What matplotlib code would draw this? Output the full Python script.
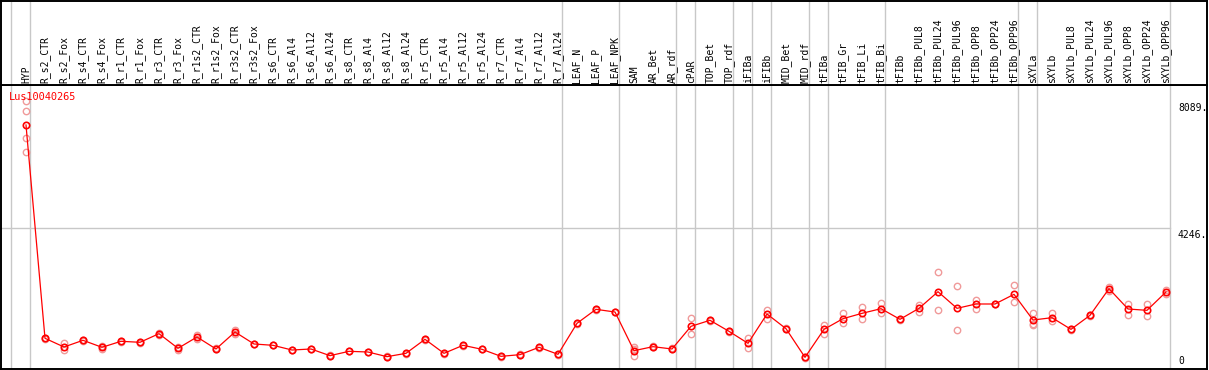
import matplotlib
matplotlib.use("Agg")
import matplotlib.pyplot as plt
from matplotlib.transforms import blended_transform_factory, offset_copy

W, H = 1209, 370

categories = ["HYP", "R_s2_CTR", "R_s2_Fox", "R_s4_CTR", "R_s4_Fox", "R_r1_CTR", "R_r1_Fox",
              "R_r3_CTR", "R_r3_Fox", "R_r1s2_CTR", "R_r1s2_Fox", "R_r3s2_CTR", "R_r3s2_Fox",
              "R_s6_CTR", "R_s6_Al4", "R_s6_Al12", "R_s6_Al24", "R_s8_CTR", "R_s8_Al4",
              "R_s8_Al12", "R_s8_Al24", "R_r5_CTR", "R_r5_Al4", "R_r5_Al12", "R_r5_Al24",
              "R_r7_CTR", "R_r7_Al4", "R_r7_Al12", "R_r7_Al24", "LEAF_N", "LEAF_P", "LEAF_NPK",
              "SAM", "AR_Bet", "AR_rdf", "cPAR", "TOP_Bet", "TOP_rdf", "iFIBa", "iFIBb",
              "MID_Bet", "MID_rdf", "tFIBa", "tFIB_Gr", "tFIB_Li", "tFIB_Bi", "tFIBb",
              "tFIBb_PUL8", "tFIBb_PUL24", "tFIBb_PUL96", "tFIBb_OPP8", "tFIBb_OPP24",
              "tFIBb_OPP96", "sXYLa", "sXYLb", "sXYLb_PUL8", "sXYLb_PUL24", "sXYLb_PUL96",
              "sXYLb_OPP8", "sXYLb_OPP24", "sXYLb_OPP96"]

means = [7365, 927, 664, 866, 655, 836, 806, 1066, 625, 966, 604, 1117, 755, 715, 573,
         604, 402, 534, 513, 372, 473, 896, 473, 715, 594, 382, 433, 655, 443,
         1379, 1801, 1720, 553, 674, 604, 1288, 1470, 1137, 775, 1660, 1217, 352,
         1197, 1519, 1680, 1821, 1500, 1831, 2333, 1831, 1962, 1962, 2254, 1479,
         1549, 1197, 1620, 2424, 1811, 1771, 2324]

replicates = [[8089, 7778, 6963, 6550], [900, 950], [776, 573], [840, 890], [700, 600],
              [820, 850], [790, 820], [1100, 1030], [650, 580], [1040, 900], [620, 590],
              [1180, 1060], [760, 750], [720, 710], [580, 570], [610, 600], [410, 395],
              [540, 530], [520, 505], [380, 365], [480, 465], [910, 880], [480, 465],
              [730, 700], [600, 590], [390, 375], [440, 425], [665, 645], [450, 435],
              [1390, 1370], [1810, 1790], [1730, 1710], [650, 610, 400], [700, 650],
              [620, 590], [1530, 1056], [1480, 1460], [1145, 1130], [926, 624],
              [1781, 1500], [1225, 1210], [360, 345], [1328, 1046], [1690, 1398],
              [1871, 1500], [2001, 1690], [1510, 1490], [1932, 1730], [2937, 1771],
              [2505, 1168], [2083, 1801], [1970, 1955], [2526, 2013], [1680, 1358, 1318],
              [1680, 1449], [1205, 1190], [1630, 1610], [2485, 2364], [1952, 1630],
              [1962, 1610], [2380, 2270]]

gene_label = "Lus10040265"
right_ticks = [8089, 4246, 0]
right_tick_labels = ["8089.", "4246.", "0"]
group_bounds = [-1, 0, 28, 31, 34, 35, 37, 38, 39, 41, 42, 45, 52, 53, 60]

GRAY = "#c8c8c8"
RED = "#ff0000"
PINK = "#f09a9a"
FONT = "DejaVu Sans Mono"

fig = plt.figure(figsize=(W / 100, H / 100), dpi=100)

x0 = (1 - 26) / 19
x1 = (1207 - 26) / 19

# plot axes: y pixel 85..369
ax = fig.add_axes([1 / W, (H - 369) / H, 1206 / W, 284 / H])
# header axes: y pixel 1..85
axh = fig.add_axes([1 / W, (H - 85) / H, 1206 / W, 84 / H])

for a in (ax, axh):
    a.set_xlim(x0, x1)
    a.set_xticks([])
    a.set_yticks([])
    for s in a.spines.values():
        s.set_color("black")
        s.set_linewidth(1.4)
    for k in group_bounds:
        a.axvline(k + 4 / 19, color=GRAY, lw=1.0, zorder=0)

ymax = 8572
ax.set_ylim(0, ymax)
axh.set_ylim(0, 1)

# horizontal reference line at middle tick
ax.plot([x0, group_bounds[-1] + 4 / 19], [right_ticks[1], right_ticks[1]],
        color=GRAY, lw=1.0, zorder=0)

xs = list(range(len(categories)))

# replicate points
rx, ry = [], []
for i, reps in enumerate(replicates):
    for v in reps:
        rx.append(i)
        ry.append(v)
ax.plot(rx, ry, ls="none", marker="o", ms=4.6, mfc="none", mec=PINK, mew=1.0, zorder=2)

# mean line and markers
ax.plot(xs, means, color=RED, lw=0.9, zorder=3)
ax.plot(xs, means, ls="none", marker="o", ms=4.6, mfc="none", mec=RED, mew=1.2, zorder=4)

# header labels
th = offset_copy(blended_transform_factory(axh.transData, axh.transAxes), fig=fig,
                 x=0, y=2, units="dots")
for i, lab in enumerate(categories):
    axh.text(i, 0, lab, transform=th, rotation=90, ha="center", va="bottom",
             fontsize=7, family=FONT, color="black")

# gene label
fig.text(9 / W, 1 - 92 / H, gene_label, ha="left", va="top", fontsize=7.4,
         family=FONT, color=RED, zorder=10)

# right axis labels
tr = blended_transform_factory(fig.transFigure, ax.transData)
for v, lab in zip(right_ticks, right_tick_labels):
    if v == 0:
        t = offset_copy(tr, fig=fig, x=0, y=3, units="dots")
        ax.text(1178 / W, v, lab, transform=t, ha="left", va="bottom",
                fontsize=7, family=FONT, color="black")
    else:
        t = offset_copy(tr, fig=fig, x=0, y=-2, units="dots")
        ax.text(1178 / W, v, lab, transform=t, ha="left", va="top",
                fontsize=7, family=FONT, color="black")

fig.savefig("out.png", dpi=100)
